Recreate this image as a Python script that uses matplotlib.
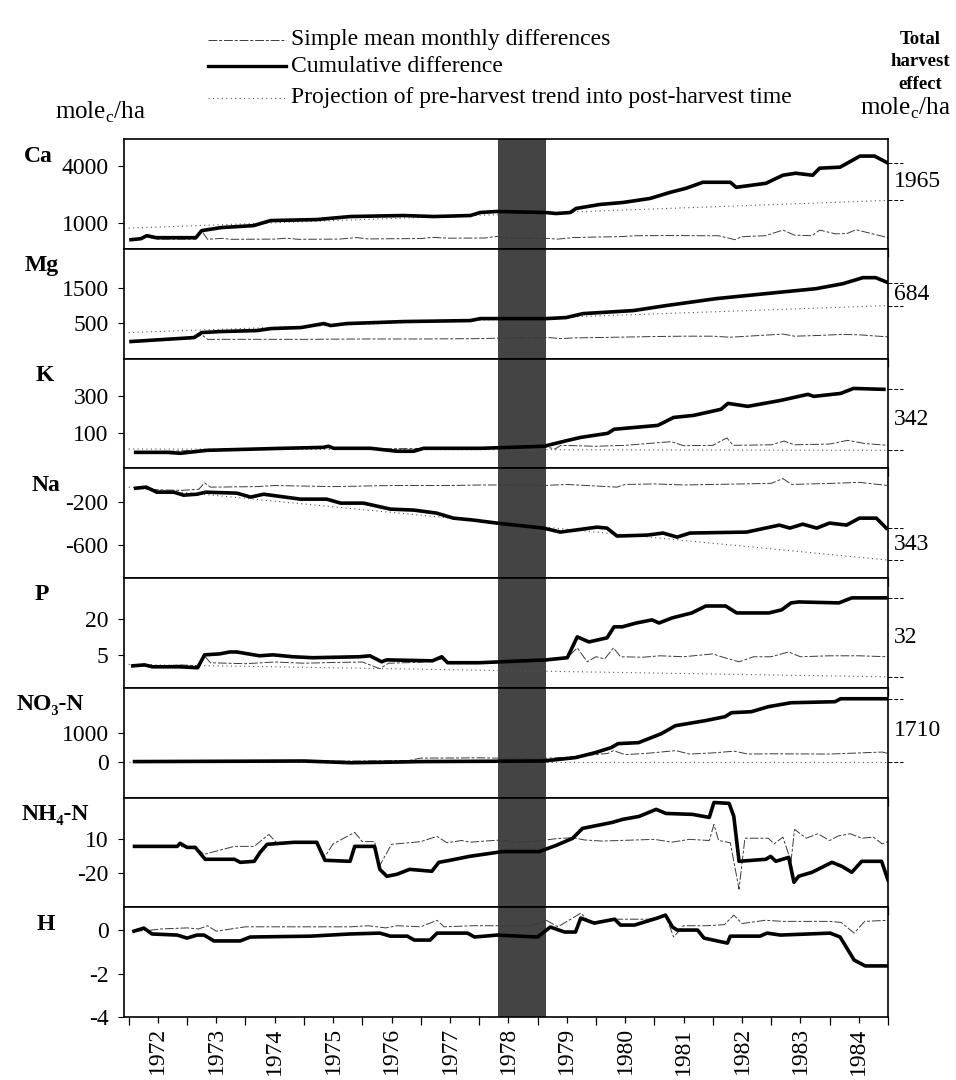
import matplotlib
matplotlib.use("Agg")
import matplotlib.pyplot as plt
import matplotlib.transforms as mtransforms
from matplotlib.lines import Line2D

plt.rcParams['font.family'] = ['Liberation Serif', 'DejaVu Serif']

# ---------------- data ----------------
years = list(range(1972, 1985))
elements = ["Ca", "Mg", "K", "Na", "P", "NO\u2083-N", "NH\u2084-N", "H"]
totals = ["1965", "684", "342", "343", "32", "1710", None, None]
yticks = [[1000, 4000], [500, 1500], [100, 300], [-600, -200],
          [5, 20], [0, 1000], [-20, 10], [-4, -2, 0]]
harvest = (1978.33, 1979.15)

# Ca
ca_t = [1972.04, 1972.21, 1972.31, 1972.47, 1973.15, 1973.25, 1973.58, 1974.14, 1974.43,
        1975.22, 1975.80, 1976.71, 1977.22, 1977.85, 1978.02, 1978.30, 1979.13, 1979.32,
        1979.56, 1979.66, 1980.07, 1980.47, 1980.93, 1981.27, 1981.54, 1981.83, 1982.30,
        1982.40, 1982.91, 1983.20, 1983.42, 1983.71, 1983.83, 1984.18, 1984.52, 1984.77, 1985.0]
ca_cum = [89, 142, 303, 196, 196, 571, 732, 839, 1107, 1161, 1322, 1375, 1322, 1375, 1536,
          1590, 1536, 1482, 1536, 1750, 1965, 2072, 2286, 2608, 2822, 3144, 3144, 2876, 3090,
          3519, 3626, 3519, 3894, 3948, 4538, 4538, 4162]
ca_dt = [1972.04, 1972.31, 1972.47, 1973.15, 1973.25, 1973.35, 1973.60, 1973.75, 1974.5,
         1974.7, 1974.9, 1975.6, 1975.9, 1976.1, 1977.0, 1977.2, 1977.5, 1978.1, 1978.3,
         1978.5, 1979.2, 1979.35, 1979.6, 1980.0, 1980.4, 1980.7, 1981.3, 1981.8, 1982.1,
         1982.38, 1982.5, 1982.9, 1983.2, 1983.4, 1983.7, 1983.83, 1984.1, 1984.3, 1984.45,
         1984.8, 1985.0]
ca_diff = [89, 250, 120, 120, 560, 110, 160, 110, 120, 170, 110, 120, 200, 130, 150, 210,
           170, 180, 260, 180, 150, 120, 200, 230, 250, 300, 310, 300, 300, 90, 250, 300,
           600, 330, 300, 600, 400, 420, 620, 350, 200]
ca_pt = [1972.0, 1985.0]
ca_proj = [705, 2180]

# Mg
mg_t = [1972.04, 1973.12, 1973.25, 1973.58, 1974.20, 1974.44, 1974.95, 1975.34, 1975.46,
        1975.73, 1976.71, 1977.85, 1978.02, 1978.30, 1979.15, 1979.49, 1979.78, 1980.64,
        1981.20, 1982.06, 1982.91, 1983.77, 1984.23, 1984.57, 1984.79, 1985.0]
mg_cum = [-43, 71, 214, 243, 271, 329, 357, 471, 414, 471, 529, 557, 614, 614, 614, 643,
          757, 843, 986, 1186, 1329, 1471, 1614, 1786, 1786, 1643]
mg_dt = [1972.04, 1973.12, 1973.25, 1973.35, 1974.0, 1975.0, 1976.0, 1977.0, 1978.0,
         1978.5, 1979.2, 1979.4, 1979.6, 1980.0, 1981.0, 1981.5, 1982.0, 1982.3, 1982.6,
         1983.2, 1983.4, 1983.8, 1984.2, 1984.5, 1985.0]
mg_diff = [-30, 40, 150, 20, 20, 20, 30, 30, 40, 60, 70, 40, 60, 70, 100, 110, 110, 80,
           110, 170, 110, 130, 160, 150, 90]
mg_pt = [1972.0, 1985.0]
mg_proj = [214, 986]

# K
k_t = [1972.12, 1972.65, 1972.89, 1973.34, 1974.65, 1975.33, 1975.42, 1975.51, 1976.14,
       1976.59, 1976.88, 1977.05, 1978.03, 1979.11, 1979.52, 1979.74, 1980.20, 1980.31,
       1981.06, 1981.33, 1981.67, 1982.14, 1982.26, 1982.60, 1983.16, 1983.63, 1983.73,
       1984.19, 1984.41, 1984.93]
k_cum = [-3, -3, -8, 8, 19, 24, 30, 19, 19, 3, 3, 19, 19, 30, 62, 78, 100, 122, 143, 186,
         197, 230, 262, 246, 278, 311, 300, 316, 343, 338]
k_dt = [1972.1, 1972.9, 1973.3, 1974.6, 1975.4, 1976.0, 1977.0, 1978.0, 1978.8, 1979.1,
        1979.3, 1979.4, 1980.0, 1980.5, 1981.29, 1981.5, 1982.0, 1982.24, 1982.35, 1983.0,
        1983.22, 1983.4, 1984.0, 1984.31, 1984.6, 1985.0]
k_diff = [-3, 5, 10, 15, 25, 15, 18, 18, 25, 30, 15, 35, 30, 35, 55, 33, 35, 75, 35, 38,
          58, 38, 42, 62, 45, 35]
k_pt = [1972.0, 1985.0]
k_proj = [15, 8]

# Na
na_t = [1972.12, 1972.30, 1972.48, 1972.77, 1972.94, 1973.17, 1973.32, 1973.85, 1974.09,
        1974.31, 1974.94, 1975.39, 1975.63, 1976.02, 1976.48, 1976.88, 1977.27, 1977.56,
        1977.90, 1978.30, 1979.10, 1979.39, 1980.02, 1980.19, 1980.36, 1980.88, 1981.15,
        1981.39, 1981.61, 1982.58, 1983.14, 1983.32, 1983.54, 1983.78, 1984.00, 1984.29,
        1984.51, 1984.80, 1984.97]
na_cum = [-70, -60, -107, -107, -135, -126, -107, -116, -153, -126, -172, -172, -209, -209,
          -265, -274, -302, -349, -367, -395, -442, -479, -433, -442, -516, -507, -488, -526,
          -488, -479, -414, -442, -405, -442, -395, -414, -349, -349, -442]
na_dt = [1972.1, 1972.5, 1972.9, 1973.2, 1973.3, 1973.4, 1974.2, 1974.5, 1975.0, 1975.5,
         1976.0, 1976.5, 1977.0, 1977.5, 1978.0, 1978.5, 1979.1, 1979.5, 1980.36, 1980.5,
         1981.0, 1981.5, 1982.0, 1982.5, 1983.0, 1983.2, 1983.35, 1984.0, 1984.3, 1984.5,
         1985.0]
na_diff = [-70, -85, -90, -80, -20, -60, -55, -45, -50, -55, -50, -45, -45, -45, -40, -40,
           -45, -35, -60, -35, -30, -40, -35, -30, -25, 20, -35, -25, -20, -15, -45]
na_pt = [1972.0, 1985.0]
na_proj = [-60, -740]

# P
p_t = [1972.07, 1972.27, 1972.41, 1972.87, 1973.18, 1973.30, 1973.56, 1973.73, 1973.85,
       1974.24, 1974.47, 1974.81, 1975.15, 1975.96, 1976.13, 1976.33, 1976.42, 1977.20,
       1977.36, 1977.46, 1978.00, 1979.15, 1979.51, 1979.68, 1979.88, 1980.19, 1980.31,
       1980.45, 1980.69, 1980.96, 1981.08, 1981.30, 1981.64, 1981.88, 1982.22, 1982.41,
       1982.96, 1983.18, 1983.34, 1983.47, 1984.16, 1984.38, 1984.96]
p_cum = [0.4, 0.8, 0, 0, -0.4, 5.0, 5.4, 6.2, 6.2, 4.6, 5.0, 4.2, 3.8, 4.2, 4.6, 2.1, 2.9,
         2.5, 4.2, 1.7, 1.7, 2.9, 3.8, 12.5, 10.4, 12.1, 16.7, 16.7, 18.3, 19.6, 18.3, 20.4,
         22.5, 25.4, 25.4, 22.5, 22.5, 23.8, 26.7, 27.1, 26.7, 28.8, 28.8]
p_dt = [1972.07, 1972.41, 1972.87, 1973.18, 1973.30, 1973.40, 1974.0, 1974.5, 1975.0,
        1975.5, 1976.0, 1976.3, 1976.45, 1977.0, 1977.36, 1977.5, 1978.0, 1979.15, 1979.51,
        1979.68, 1979.85, 1980.0, 1980.15, 1980.30, 1980.42, 1980.8, 1981.1, 1981.5, 1982.0,
        1982.2, 1982.45, 1982.7, 1983.0, 1983.3, 1983.5, 1984.0, 1984.5, 1985.0]
p_diff = [0.4, 0.2, 0.8, 0.4, 4.5, 1.7, 1.3, 2.0, 1.5, 1.8, 2.0, -0.8, 1.5, 1.9, 3.2, 1.4,
          1.7, 2.5, 3.8, 7.9, 2.1, 4.2, 3.3, 7.9, 4.2, 4.0, 4.6, 4.2, 5.4, 3.8, 2.1, 4.2, 4.2,
          6.2, 4.2, 4.6, 4.6, 4.2]
p_pt = [1972.0, 1985.0]
p_proj = [1.0, -4.2]

# NO3-N
no3_t = [1972.1, 1975.0, 1975.8, 1976.5, 1977.0, 1978.0, 1979.10, 1979.65, 1979.99, 1980.26,
         1980.38, 1980.73, 1981.12, 1981.36, 1981.87, 1982.21, 1982.32, 1982.66, 1982.95,
         1983.34, 1984.09, 1984.19, 1985.0]
no3_cum = [0, 20, -40, -20, 0, 10, 20, 138, 310, 483, 621, 655, 965, 1241, 1414, 1552, 1690,
           1724, 1897, 2034, 2069, 2172, 2172]
no3_dt = [1972.1, 1976.0, 1976.8, 1977.0, 1978.0, 1979.0, 1979.5, 1980.2, 1980.3, 1980.5,
          1980.9, 1981.37, 1981.6, 1982.0, 1982.37, 1982.6, 1983.0, 1984.0, 1984.9, 1985.0]
no3_diff = [0, 20, 40, 120, 130, 100, 150, 280, 380, 240, 290, 380, 260, 300, 360, 260, 270,
            260, 330, 280]
no3_pt = [1972.0, 1985.0]
no3_proj = [0, 0]

# NH4-N
nh4_t = [1972.10, 1972.83, 1972.88, 1973.00, 1973.14, 1973.31, 1973.81, 1973.91, 1974.15,
         1974.25, 1974.37, 1974.83, 1975.22, 1975.36, 1975.79, 1975.87, 1976.21, 1976.30,
         1976.42, 1976.59, 1976.81, 1977.19, 1977.31, 1977.50, 1977.84, 1978.40, 1979.03,
         1979.32, 1979.60, 1979.77, 1980.28, 1980.45, 1980.74, 1981.03, 1981.20, 1981.65,
         1981.94, 1982.02, 1982.28, 1982.36, 1982.45, 1982.91, 1982.99, 1983.08, 1983.30,
         1983.39, 1983.47, 1983.70, 1984.04, 1984.21, 1984.38, 1984.55, 1984.89, 1985.0]
nh4_cum = [3.8, 3.8, 6.5, 2.9, 2.9, -7.6, -7.6, -10.3, -9.4, -1.5, 5.6, 7.4, 7.4, -8.5,
           -9.4, 3.8, 3.8, -16.5, -22.6, -20.9, -16.5, -18.2, -10.3, -8.5, -5.0, -0.8, -0.8,
           4.7, 10.9, 19.7, 25.0, 27.6, 30.3, 36.5, 32.9, 32.1, 29.4, 42.6, 41.8, 30.3, -9.4,
           -7.6, -5.0, -9.4, -5.9, -27.9, -22.6, -19.1, -10.3, -13.8, -19.1, -9.4, -9.4, -26]
nh4_dt = [1972.10, 1972.83, 1973.14, 1973.29, 1973.81, 1974.15, 1974.40, 1974.55, 1975.22,
          1975.36, 1975.50, 1975.87, 1976.00, 1976.21, 1976.30, 1976.50, 1977.0, 1977.28,
          1977.45, 1977.70, 1977.85, 1978.1, 1978.4, 1978.6, 1979.0, 1979.3, 1979.6, 1979.8,
          1980.1, 1980.4, 1980.7, 1981.0, 1981.3, 1981.6, 1981.94, 1982.02, 1982.10, 1982.30,
          1982.45, 1982.55, 1982.95, 1983.05, 1983.2, 1983.34, 1983.40, 1983.6, 1983.8,
          1984.0, 1984.15, 1984.35, 1984.55, 1984.75, 1984.9, 1985.0]
nh4_diff = [3.8, 3.8, 2.9, -3.2, 3.8, 3.8, 14.4, 6.0, 7.4, -5.0, 6.0, 16.2, 8.0, 8.0, -13.0,
            5.6, 8.0, 12.6, 7.0, 9.0, 7.5, 8.5, 9.5, 7.5, 8.5, 10.5, 11.5, 9.5, 8.5, 9.0,
            9.5, 10.0, 7.5, 10.0, 9.0, 23.2, 9.0, 7.0, -34.0, 11.0, 11.0, 6.0, 12.0, -9.4,
            18.8, 11.0, 15.0, 9.0, 13.0, 15.0, 11.0, 12.0, 6.0, 8.0]

# H
h_t = [1972.09, 1972.26, 1972.40, 1972.83, 1973.00, 1973.17, 1973.29, 1973.46, 1973.91,
       1974.08, 1975.11, 1975.79, 1976.30, 1976.48, 1976.77, 1976.89, 1977.16, 1977.28,
       1977.80, 1977.92, 1978.31, 1979.00, 1979.22, 1979.46, 1979.65, 1979.74, 1979.97,
       1980.32, 1980.42, 1980.66, 1981.05, 1981.19, 1981.31, 1981.39, 1981.74, 1981.85,
       1982.25, 1982.30, 1982.81, 1982.93, 1983.16, 1984.01, 1984.18, 1984.42, 1984.61,
       1985.0]
h_cum = [-0.05, 0.09, -0.18, -0.23, -0.37, -0.23, -0.23, -0.50, -0.50, -0.32, -0.28, -0.18,
         -0.14, -0.28, -0.28, -0.46, -0.46, -0.14, -0.14, -0.32, -0.23, -0.32, 0.14, -0.09,
         -0.09, 0.55, 0.32, 0.50, 0.23, 0.23, 0.55, 0.69, 0.14, 0.0, 0.0, -0.37, -0.60,
         -0.28, -0.28, -0.14, -0.23, -0.14, -0.32, -1.38, -1.65, -1.65]
h_dt = [1972.09, 1972.40, 1972.55, 1973.0, 1973.2, 1973.35, 1973.5, 1974.0, 1974.4, 1975.0,
        1975.5, 1975.8, 1976.1, 1976.4, 1976.6, 1977.0, 1977.28, 1977.4, 1977.9, 1978.3,
        1978.9, 1979.15, 1979.35, 1979.74, 1979.9, 1980.3, 1980.9, 1981.19, 1981.33, 1981.5,
        1981.9, 1982.2, 1982.36, 1982.5, 1982.9, 1983.2, 1983.6, 1984.0, 1984.2, 1984.42,
        1984.6, 1985.0]
h_diff = [-0.05, 0.0, 0.05, 0.1, 0.05, 0.2, -0.05, 0.15, 0.15, 0.15, 0.15, 0.15, 0.2, 0.1,
          0.2, 0.15, 0.45, 0.15, 0.2, 0.2, 0.2, 0.45, 0.15, 0.78, 0.35, 0.5, 0.5, 0.69, -0.32,
          0.2, 0.2, 0.25, 0.69, 0.3, 0.45, 0.4, 0.4, 0.4, 0.35, -0.14, 0.4, 0.45]

panels = [
    (ca_t, ca_cum, ca_dt, ca_diff, ca_pt, ca_proj),
    (mg_t, mg_cum, mg_dt, mg_diff, mg_pt, mg_proj),
    (k_t, k_cum, k_dt, k_diff, k_pt, k_proj),
    (na_t, na_cum, na_dt, na_diff, na_pt, na_proj),
    (p_t, p_cum, p_dt, p_diff, p_pt, p_proj),
    (no3_t, no3_cum, no3_dt, no3_diff, no3_pt, no3_proj),
    (nh4_t, nh4_cum, nh4_dt, nh4_diff, None, None),
    (h_t, h_cum, h_dt, h_diff, None, None),
]

# axis ranges chosen so the tick labels sit where they do in the original
ylims = [(-393, 5447), (-529, 2614), (-89, 505), (-907, 116),
         (-8.75, 37.1), (-1241, 2552), (-50, 47), (-4.0, 1.05)]
# horizontal centre (px) of each element name
name_x = [38, 42, 45, 46, 42, 50, 55, 46]

# ---------------- figure ----------------
W, H = 956, 1080
fig, axes = plt.subplots(8, 1, sharex=True, figsize=(W / 100, H / 100), dpi=100)
fig.subplots_adjust(left=124 / W, right=888 / W, top=1 - 139 / H, bottom=1 - 1017 / H,
                    hspace=0)

diff_style = dict(color="#3a3a3a", lw=0.7, dashes=(9, 2, 3, 2))
proj_style = dict(color="#555555", lw=0.8, dashes=(1, 3))

for i, ax in enumerate(axes):
    t, cum, dt, diff, pt, proj = panels[i]
    ax.axvspan(*harvest, color="#444444", lw=0, zorder=0)
    ax.plot(dt, diff, zorder=2, **diff_style)
    if pt is not None:
        ax.plot(pt, proj, zorder=2, **proj_style)
    ax.plot(t, cum, color="black", lw=2.6, solid_joinstyle="round", zorder=3)

    ax.set_ylim(*ylims[i])
    ax.set_yticks(yticks[i])
    ax.set_yticklabels([str(v) for v in yticks[i]])
    ax.tick_params(axis="y", direction="out", length=4, width=0.8, labelsize=17, pad=7)
    ax.tick_params(axis="x", which="major", direction="out", length=6, width=0.9)
    ax.tick_params(axis="x", which="minor", direction="out", length=4, width=0.9)
    for s in ax.spines.values():
        s.set_linewidth(1.2)

    # harvest-effect brackets at the right edge
    if pt is not None:
        tr = mtransforms.blended_transform_factory(ax.transAxes, ax.transData)
        for v in (cum[-1], proj[-1]):
            ax.plot([1.0, 1.02], [v, v], transform=tr, clip_on=False, color="black",
                    lw=0.7, dashes=(4, 2))
    if totals[i] is not None:
        tr = mtransforms.blended_transform_factory(ax.transAxes, ax.transData)
        ax.text(1.008, (cum[-1] + proj[-1]) / 2, totals[i], transform=tr, fontsize=17,
                ha="left", va="center")

    # element name at the left
    bb = ax.get_position()
    fig.text(name_x[i] / W, bb.y1 - 17 / H, elements[i], fontsize=17, fontweight="bold",
             ha="center", va="center")

ax = axes[-1]
ax.set_xlim(1971.92, 1985.0)
ax.set_xticks(years + [1985])
ax.set_xticklabels([])
ax.set_xticks([y + 0.5 for y in years], minor=True)
ax.set_xticklabels([str(y) for y in years], minor=True, rotation=90, fontsize=17)
for a in axes[:-1]:
    a.tick_params(axis="x", which="both", labelbottom=False)

# ---------------- legend and headers ----------------
def fx(x):
    return x / W


def fy(y):
    return 1 - y / H


rows = [(40, diff_style, "Simple mean monthly differences"),
        (66, dict(color="black", lw=2.4), "Cumulative difference"),
        (98, proj_style, "Projection of pre-harvest trend into post-harvest time")]
for y, st, label in rows:
    fig.add_artist(Line2D([fx(208), fx(286)], [fy(y), fy(y)], transform=fig.transFigure,
                          **st))
    fig.text(fx(291), fy(y), label, fontsize=17, ha="left", va="center")

fig.text(fx(100), fy(112), "mole$_\\mathregular{c}$/ha", fontsize=18, ha="center",
         va="center")
fig.text(fx(905), fy(108), "mole$_\\mathregular{c}$/ha", fontsize=18, ha="center",
         va="center")
fig.text(fx(920), fy(62), "Total\nharvest\neffect", fontsize=13.5, fontweight="bold",
         ha="center", va="center", linespacing=1.4)

fig.savefig("out.png", dpi=100)
